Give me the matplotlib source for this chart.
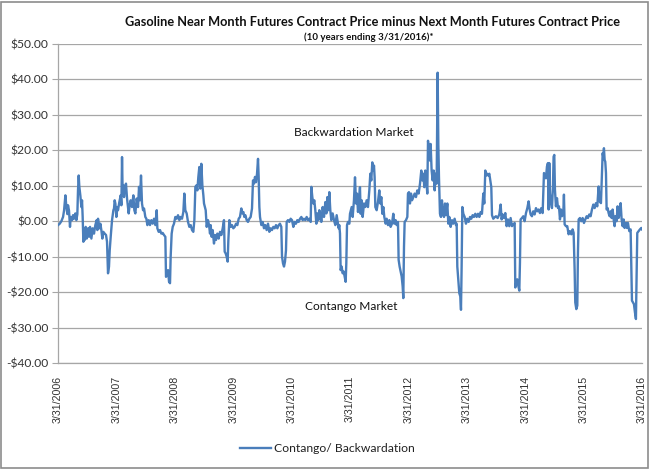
import numpy as np
import pandas as pd
import matplotlib
matplotlib.use("Agg")
import matplotlib.pyplot as plt
from matplotlib.patches import Rectangle

# years after 3/31/2006 and the near-minus-next spread ($)
yrs_a = [0.000, 0.029, 0.057, 0.086, 0.103, 0.126, 0.143, 0.160, 0.171, 0.188, 0.205, 0.217, 0.240, 0.257,
         0.274, 0.297, 0.314, 0.331, 0.342, 0.354, 0.365, 0.382, 0.400, 0.411, 0.422, 0.434, 0.445, 0.457,
         0.474, 0.491, 0.514, 0.531, 0.548, 0.571, 0.594, 0.616, 0.639, 0.662, 0.674, 0.685, 0.708, 0.725,
         0.742, 0.759, 0.776, 0.799, 0.822, 0.839, 0.856, 0.873, 0.885, 0.902, 0.925, 0.948, 0.959, 0.970,
         0.982, 0.999, 1.016, 1.027, 1.050, 1.073, 1.085, 1.096, 1.107, 1.119, 1.130, 1.147, 1.164, 1.182,
         1.199, 1.210, 1.227, 1.244, 1.267, 1.290, 1.307, 1.324, 1.347, 1.370, 1.387, 1.404, 1.421, 1.438,
         1.456, 1.473, 1.495, 1.513, 1.530, 1.553, 1.575, 1.598, 1.621, 1.644, 1.667, 1.690, 1.701, 1.724,
         1.747, 1.769, 1.792, 1.815, 1.838, 1.849, 1.866, 1.884, 1.901, 1.918, 1.929, 1.946, 1.964, 1.986,
         2.009, 2.032, 2.055, 2.078, 2.100, 2.123, 2.146, 2.163, 2.180, 2.203, 2.226, 2.249, 2.272, 2.295,
         2.317, 2.335, 2.352, 2.369, 2.386, 2.403, 2.420, 2.437, 2.454, 2.472, 2.489]
spread_a = [-1.1, -0.7, 0.0, 1.2, 3.0, 7.3, 4.0, 2.0, 4.5, 3.0, -1.6, 1.2, 0.3, 1.7,
            0.7, 2.2, 0.3, 2.0, 8.7, 12.9, 9.7, 7.3, 4.0, 5.9, 1.2, -5.8, -2.5, -5.3,
            -1.6, -4.9, -2.0, -4.4, -1.6, -4.9, -2.0, -3.5, -1.1, 0.3, -2.5, 0.7, -2.0, -0.7,
            -2.5, -4.9, -3.0, -3.5, -3.9, -5.8, -14.7, -12.8, -8.2, -4.4, 0.3, 3.1, 3.6, 5.9,
            5.0, 1.2, 4.0, 3.1, 5.4, 7.3, 4.5, 18.1, 7.8, 10.1, 6.8, 9.7, 10.6, 6.4,
            4.0, 2.2, 4.5, 5.9, 4.0, 7.3, 3.1, 2.2, 6.4, 4.0, 9.7, 5.9, 12.9, 5.0,
            3.1, 3.6, 1.2, 0.7, -1.1, 0.3, -1.1, 0.3, -0.7, 0.7, -1.1, 3.1, -2.0, -3.0,
            -2.5, -3.5, -3.3, -3.9, -4.4, -15.7, -15.2, -13.8, -17.1, -17.5, -10.0, -3.5, -1.6, -0.7,
            1.2, 0.7, 1.7, 0.3, 1.2, 0.7, 2.6, 7.8, 3.1, 2.2, -0.2, -1.6, -1.1, -2.5,
            -3.0, 0.3, 9.7, 10.1, 8.7, 12.5, 15.3, 9.2, 16.2, 10.1, 7.3]

yrs_b = [2.500, 2.529, 2.546, 2.568, 2.586, 2.603, 2.614, 2.631, 2.648, 2.671, 2.688, 2.705, 2.728, 2.751,
         2.774, 2.797, 2.820, 2.842, 2.854, 2.871, 2.888, 2.905, 2.917, 2.934, 2.957, 2.979, 3.002, 3.025,
         3.048, 3.071, 3.094, 3.116, 3.139, 3.156, 3.174, 3.191, 3.208, 3.231, 3.253, 3.276, 3.299, 3.322,
         3.339, 3.356, 3.373, 3.390, 3.408, 3.425, 3.436, 3.448, 3.459, 3.482, 3.505, 3.527, 3.550, 3.573,
         3.596, 3.619, 3.642, 3.664, 3.687, 3.710, 3.733, 3.756, 3.779, 3.801, 3.824, 3.836, 3.853, 3.870,
         3.887, 3.904, 3.916, 3.938, 3.961, 3.984, 4.007, 4.030, 4.053, 4.075, 4.098, 4.121, 4.144, 4.167,
         4.190, 4.212, 4.235, 4.258, 4.281, 4.304, 4.327, 4.338, 4.355, 4.372, 4.389, 4.406, 4.424, 4.441,
         4.458, 4.475, 4.492, 4.509, 4.532, 4.555, 4.578, 4.595, 4.612, 4.629, 4.646, 4.663, 4.680, 4.703,
         4.726, 4.749, 4.772, 4.795, 4.806, 4.817, 4.829, 4.840, 4.857, 4.874, 4.892, 4.909, 4.926, 4.937,
         4.949, 4.966, 4.989]
spread_b = [5.0, 3.1, -1.6, 0.3, -1.1, -3.5, -1.1, -4.4, -2.5, -6.3, -3.9, -5.3, -3.5, -4.9,
            -3.0, -3.9, -2.0, 0.3, -8.6, -9.1, -10.0, -11.4, -5.3, 0.3, -1.6, -1.1, -2.0, -1.6,
            -0.7, -1.1, 0.7, 1.2, 3.6, 2.2, 2.6, 1.2, 1.7, 0.3, -0.2, 0.7, 1.2, 3.6,
            11.5, 10.6, 12.5, 11.0, 13.4, 17.6, 12.5, 4.0, 1.2, -1.1, -0.2, -2.0, -1.1, -2.5,
            -0.7, -3.0, -2.0, -2.5, -1.6, -2.0, -1.1, -2.0, -1.1, -0.7, -1.6, -10.0, -11.9, -12.8,
            -11.4, -8.2, -0.2, 0.3, -0.2, 0.7, 0.3, -1.6, -0.2, -0.7, 0.3, -0.2, 0.7, 1.2,
            0.3, 0.7, 0.3, 1.2, 0.3, 0.7, -0.2, 9.7, 6.8, 5.0, 5.9, 3.1, -0.7, 2.2,
            0.3, 3.1, 1.7, -0.2, 4.0, 1.2, 5.4, 2.2, 6.8, 3.1, 8.2, 3.1, 0.3, 2.2,
            0.3, -1.1, 1.7, -0.7, -2.0, -1.1, -3.5, -13.8, -12.8, -14.7, -14.2, -15.7, -17.1, -11.9,
            -1.1, -0.2, -0.7]

yrs_c = [5.000, 5.029, 5.046, 5.068, 5.086, 5.103, 5.120, 5.137, 5.154, 5.171, 5.183, 5.200, 5.217, 5.240,
         5.263, 5.285, 5.308, 5.331, 5.348, 5.365, 5.382, 5.400, 5.411, 5.422, 5.434, 5.457, 5.479, 5.502,
         5.519, 5.537, 5.554, 5.571, 5.588, 5.611, 5.628, 5.651, 5.674, 5.696, 5.719, 5.742, 5.759, 5.782,
         5.799, 5.822, 5.833, 5.850, 5.868, 5.885, 5.902, 5.913, 5.925, 5.936, 5.959, 5.982, 5.993, 6.010,
         6.027, 6.045, 6.062, 6.085, 6.107, 6.130, 6.153, 6.176, 6.199, 6.221, 6.239, 6.256, 6.273, 6.290,
         6.307, 6.324, 6.336, 6.353, 6.370, 6.381, 6.398, 6.416, 6.433, 6.450, 6.467, 6.484, 6.501, 6.513,
         6.524, 6.541, 6.558, 6.575, 6.592, 6.610, 6.627, 6.644, 6.667, 6.684, 6.701, 6.724, 6.747, 6.769,
         6.792, 6.815, 6.827, 6.838, 6.855, 6.872, 6.889, 6.901, 6.912, 6.924, 6.941, 6.964, 6.986, 7.009,
         7.032, 7.055, 7.078, 7.100, 7.123, 7.146, 7.169, 7.192, 7.215, 7.238, 7.260, 7.283, 7.300, 7.317,
         7.335, 7.352, 7.369, 7.386, 7.403, 7.420, 7.432, 7.454, 7.483]
spread_c = [2.1, 4.0, 1.2, 5.9, 12.4, 5.0, 7.8, 2.6, 5.9, 9.6, 2.1, 5.9, 1.2, 5.0,
            4.0, 5.9, 4.0, 8.7, 13.4, 11.5, 16.6, 14.3, 15.7, 12.4, 4.0, 3.1, 5.4, 8.7,
            5.0, 6.8, 2.1, 4.0, 1.2, -0.7, 0.7, -1.1, 0.3, -1.6, -0.7, 2.1, -0.7, 0.3,
            -1.1, -0.2, -10.9, -12.8, -14.2, -15.6, -18.4, -21.7, -7.2, -0.2, 0.3, 1.2, 7.8, 8.2,
            5.0, 7.8, 5.9, 6.8, 7.8, 6.8, 8.7, 7.8, 10.6, 14.3, 11.5, 13.4, 9.6, 14.3,
            11.5, 7.8, 22.7, 19.9, 17.1, 21.8, 14.3, 11.5, 14.3, 8.7, 13.4, 10.6, 41.9, 21.8,
            12.4, 2.1, 1.2, 5.9, 2.1, 1.2, 5.0, 1.7, 5.0, -0.7, 1.2, -1.6, 0.3, -0.7,
            0.7, -1.1, -0.7, -12.8, -16.5, -20.3, -21.2, -25.0, -12.8, 4.0, 2.1, 1.2, -0.7, 0.7,
            -0.2, 1.2, 0.7, 1.7, 1.2, 2.1, 1.2, 2.1, 1.2, 2.6, 2.1, 7.8, 5.0, 14.3,
            12.9, 13.4, 12.9, 13.4, 11.5, 9.6, 1.7, 0.7, 1.2]

yrs_d = [7.500, 7.529, 7.557, 7.580, 7.597, 7.614, 7.637, 7.660, 7.683, 7.705, 7.728, 7.751, 7.774, 7.797,
         7.820, 7.831, 7.848, 7.865, 7.882, 7.900, 7.911, 7.922, 7.945, 7.968, 7.991, 8.014, 8.037, 8.059,
         8.077, 8.094, 8.116, 8.139, 8.162, 8.185, 8.208, 8.231, 8.253, 8.276, 8.299, 8.322, 8.339, 8.356,
         8.373, 8.390, 8.402, 8.413, 8.425, 8.442, 8.459, 8.476, 8.487, 8.499, 8.510, 8.527, 8.545, 8.562,
         8.579, 8.596, 8.613, 8.630, 8.653, 8.664, 8.676, 8.699, 8.721, 8.744, 8.767, 8.790, 8.813, 8.830,
         8.847, 8.858, 8.876, 8.893, 8.904, 8.916, 8.938, 8.961, 8.984, 9.007, 9.030, 9.053, 9.075, 9.098,
         9.121, 9.144, 9.167, 9.190, 9.212, 9.235, 9.258, 9.275, 9.298, 9.315, 9.327, 9.338, 9.349, 9.361,
         9.372, 9.384, 9.395, 9.412, 9.429, 9.446, 9.464, 9.481, 9.498, 9.515, 9.532, 9.543, 9.566, 9.583,
         9.600, 9.618, 9.635, 9.652, 9.669, 9.686, 9.703, 9.726, 9.743, 9.760, 9.783, 9.806, 9.829, 9.846,
         9.863, 9.880, 9.897, 9.909, 9.920, 9.943, 9.966, 9.989, 10.000]
spread_d = [1.4, 0.9, 1.9, 4.7, 0.5, 1.9, 0.9, 2.3, -1.4, 0.5, -1.4, 0.9, -1.4, -0.9,
            -0.5, -18.7, -17.3, -16.4, -18.2, -19.6, -11.7, 0.5, 0.9, 1.4, 0.0, 2.3, 3.7, 5.6,
            3.3, 1.9, 1.4, 2.8, 1.9, 3.7, 2.8, 3.3, 2.3, 3.7, 2.3, 13.6, 13.1, 12.1,
            15.4, 16.4, 3.3, 16.4, 7.9, 5.1, 3.7, 9.8, 18.2, 18.7, 8.9, 4.2, 6.5, 3.7,
            4.2, 0.5, 3.3, 1.4, 2.3, 7.5, -0.9, -1.4, -1.4, -3.7, -2.8, -3.7, -2.3, -3.3,
            -13.6, -22.9, -24.8, -23.8, -8.9, 0.5, 0.9, 0.0, 0.9, -0.5, 0.5, 1.4, 0.9, 1.9,
            1.4, 3.3, 4.7, 3.7, 5.1, 4.2, 9.8, 5.6, 5.1, 13.6, 19.2, 18.2, 20.6, 17.3,
            16.8, 13.6, 3.3, 3.7, 2.3, 1.4, 2.8, 0.9, 3.3, 0.5, -1.4, 1.4, 0.0, 4.2,
            0.9, 2.3, 5.1, 0.5, -1.4, 0.5, -1.9, -0.5, -1.9, -0.5, -2.8, -2.3, -22.4, -22.9,
            -23.4, -25.7, -27.6, -15.4, -3.3, -2.8, -2.3, -1.9, -2.3]

tick_years = list(range(2006, 2017))
y_ticks = list(range(-40, 51, 10))

start = pd.Timestamp("2006-03-31")
yrs = np.array(yrs_a + yrs_b + yrs_c + yrs_d)
spread = np.array(spread_a + spread_b + spread_c + spread_d)
dates = start + pd.to_timedelta(yrs * 365.25, unit="D")

fig = plt.figure(figsize=(6.52, 4.70), dpi=100)
ax = fig.add_axes([0.089, 0.2277, 0.8957, 0.6787])

line_col = "#4A7EBB"
grid_col = "#A6A6A6"
ax.plot(dates, spread, color=line_col, lw=1.7, label="Contango/ Backwardation", zorder=3)

ax.set_ylim(-40, 50)
ax.set_yticks(y_ticks)
ax.set_yticklabels([("-$%.2f" % -v) if v < 0 else ("$%.2f" % v) for v in y_ticks],
                   fontfamily="Lato", fontsize=8.7)
ax.yaxis.grid(True, color=grid_col, lw=0.9)
ax.set_axisbelow(True)

tick_dates = [pd.Timestamp(f"{y}-03-31") for y in tick_years]
ax.set_xlim(tick_dates[0], tick_dates[-1])
ax.set_xticks(tick_dates)
ax.set_xticklabels([f"3/31/{y}" for y in tick_years], rotation=90,
                   fontfamily="Liberation Sans", fontsize=7.7, va="top", ha="center")
ax.tick_params(axis="x", length=0, pad=9, labelcolor="#333333")
ax.tick_params(axis="y", length=4, width=0.8, color=grid_col, pad=3, labelcolor="#333333")

for side in ["top", "right"]:
    ax.spines[side].set_visible(False)
ax.spines["left"].set_color(grid_col)
ax.spines["bottom"].set_color(grid_col)
ax.spines["left"].set_linewidth(0.9)
ax.spines["bottom"].set_linewidth(0.9)

ax.text(start + pd.Timedelta(days=5.07 * 365.25), 25.0, "Backwardation Market",
        ha="center", va="center", fontfamily="Lato", fontsize=8.6, color="#111111")
ax.text(start + pd.Timedelta(days=5.03 * 365.25), -24.2, "Contango Market",
        ha="center", va="center", fontfamily="Lato", fontsize=8.6, color="#111111")

fig.text(0.572, 1 - 22 / 470, "Gasoline Near Month Futures Contract Price minus Next Month Futures Contract Price",
         ha="center", va="center", fontfamily="Lato", fontweight="bold", fontsize=9.2, color="#111111")
fig.text(0.566, 1 - 37.5 / 470, "(10 years ending 3/31/2016)*",
         ha="center", va="center", fontfamily="Lato", fontweight="bold", fontsize=7, color="#111111")

leg = fig.legend(loc="center", bbox_to_anchor=(0.502, 1 - 449 / 470), frameon=False,
                 prop={"family": "Lato", "size": 8.7}, handlelength=2.6, handletextpad=0.2)
for t in leg.get_texts():
    t.set_color("#222222")

fig.patches.append(Rectangle((0.002, 0.004), 0.992, 0.992, transform=fig.transFigure,
                             fill=False, edgecolor="#8C8C8C", lw=1.2))

fig.savefig("out.png", dpi=100)
